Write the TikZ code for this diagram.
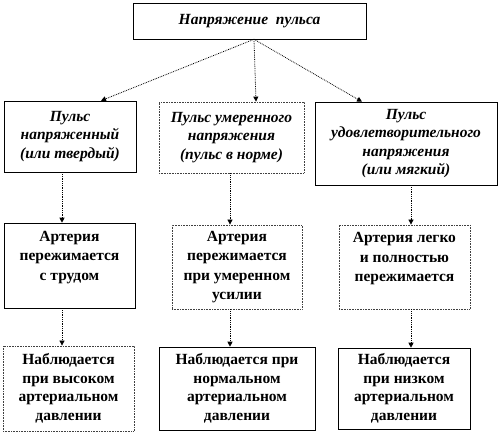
\documentclass[tikz,border=0pt]{standalone}
\usepackage{fontspec}
\setmainfont{Liberation Serif}
\usetikzlibrary{positioning,calc}
\usetikzlibrary{arrows.meta}
\tikzset{
  blk/.style={draw=black,line width=0.6pt,fill=white,inner xsep=2pt,inner ysep=2pt,align=center},
  dblk/.style={blk,draw=black!75,densely dotted,line width=0.8pt},
  hd/.style={font=\fontsize{15.5}{18.5}\selectfont\bfseries\itshape},
  bd/.style={font=\fontsize{15.5}{19.5}\selectfont\bfseries},
  bd4/.style={font=\fontsize{15.5}{18.5}\selectfont\bfseries},
  link/.style={draw=black,densely dotted,line width=0.8pt,-{Triangle[length=5pt,width=5pt]}},
}

\begin{document}
\begin{tikzpicture}[x=1pt,y=-1pt]
\useasboundingbox (0,0) rectangle (499,435);
\coordinate (ca) at (62,0);
\coordinate (cb) at (230,0);
\coordinate (cc) at (411,0);
\node[blk,hd,minimum width=233pt,minimum height=36pt] (top) at (249.5,21) {Напряжение\ \ пульса};
\node[blk,hd,minimum width=132pt,minimum height=71pt] (r2a) at (70,136.5) {Пульс\\напряженный\\(или твердый)};
\node[dblk,hd,minimum width=145pt,minimum height=71pt] (r2b) at (231.5,137.5) {Пульс умеренного\\напряжения\\(пульс в норме)};
\node[blk,hd,minimum width=182pt,minimum height=83pt] (r2c) at (406,143.5) {Пульс\\удовлетворительного\\напряжения\\(или мягкий)};
\node[blk,bd,minimum width=131pt,minimum height=85pt] (r3a) at (69.5,265.5) {Артерия\\пережимается\\с трудом\\\mbox{}};
\node[dblk,bd,minimum width=130pt,minimum height=84pt] (r3b) at (237,267) {Артерия\\пережимается\\при умеренном\\усилии};
\node[dblk,bd,minimum width=131pt,minimum height=84pt] (r3c) at (404.5,267) {Артерия легко\\и полностью\\пережимается\\\mbox{}};
\node[dblk,bd4,minimum width=131pt,minimum height=85pt] (r4a) at (68.5,388.5) {Наблюдается\\при высоком\\артериальном\\давлении};
\node[blk,bd4,minimum width=156pt,minimum height=83pt] (r4b) at (237,388.5) {Наблюдается при\\нормальном\\артериальном\\давлении};
\node[blk,bd4,minimum width=132pt,minimum height=81pt] (r4c) at (404,388.5) {Наблюдается\\при низком\\артериальном\\давлении};
% from the title to the three kinds
\draw[link] ([xshift=4.5pt]top.south) -- ([xshift=31pt]r2a.north);
\draw[link] ([xshift=4.5pt]top.south) -- ([xshift=24.5pt]r2b.north);
\draw[link] ([xshift=4.5pt]top.south) -- ([xshift=-44pt]r2c.north);
% columns
\draw[link] (r2a.south -| ca) -- (r3a.north -| ca);
\draw[link] (r2b.south -| cb) -- (r3b.north -| cb);
\draw[link] (r2c.south -| cc) -- (r3c.north -| cc);
\draw[link] (r3a.south -| ca) -- (r4a.north -| ca);
\draw[link] (r3b.south -| cb) -- (r4b.north -| cb);
\draw[link] (r3c.south -| cc) -- (r4c.north -| cc);
\end{tikzpicture}
\end{document}
